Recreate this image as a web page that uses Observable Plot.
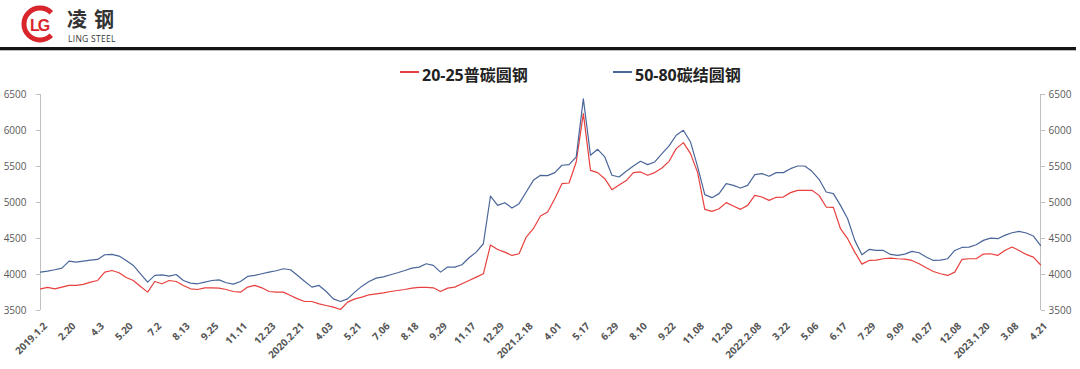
<!DOCTYPE html>
<html><head><meta charset="utf-8">
<script src="https://cdn.jsdelivr.net/npm/d3@7"></script>
<script src="https://cdn.jsdelivr.net/npm/@observablehq/plot@0.6"></script>
<style>
body{margin:0;background:#fff;font-family:"Open Sans","Noto Sans CJK SC",sans-serif;}
#wrap{position:relative;width:1080px;height:369px;overflow:hidden;background:#fff;}
#chart{position:absolute;left:0;top:0;}
#logo{position:absolute;left:0;top:0;}
.rule{position:absolute;left:0;top:47px;width:1076px;height:3px;background:#151515;}
.rule2{position:absolute;left:0;top:50px;width:1076px;height:1px;background:#bbb;}
.lg{position:absolute;top:62px;font-size:16px;font-weight:bold;color:#222;font-family:"Open Sans","Noto Sans CJK SC",sans-serif;white-space:nowrap;}
.sw{position:absolute;top:71px;width:19px;height:1.5px;}
</style></head><body>
<div id="wrap">
  <div id="chart"></div>
  <svg id="logo" width="140" height="46">
    <path d="M51.3,12.7 A16,16 0 1,0 51.3,35.3" fill="none" stroke="#d9262c" stroke-width="5"/>
    <rect x="30" y="15" width="20" height="18" fill="#fff"/>
    <text x="30" y="31" font-family="Liberation Sans, sans-serif" font-weight="bold" font-size="16" letter-spacing="-2" fill="#d9262c">LG</text>
    <text x="67" y="27" font-family="Noto Sans CJK SC, sans-serif" font-weight="bold" font-size="20" letter-spacing="7" fill="#333">凌钢</text>
    <text x="68" y="42" font-family="Open Sans, sans-serif" font-size="8.5" letter-spacing="0.3" fill="#333">LING STEEL</text>
  </svg>
  <div class="rule"></div><div class="rule2"></div>
  <div class="sw" style="left:400px;background:#e8403e"></div>
  <div class="lg" style="left:422px">20-25普碳圆钢</div>
  <div class="sw" style="left:613px;background:#4a6699"></div>
  <div class="lg" style="left:635px">50-80碳结圆钢</div>
</div>
<script>
// x tick labels (category axis, one label every 4 samples)
const tickLabels = ["2019.1.2","2.20","4.3","5.20","7.2","8.13","9.25","11.11","12.23","2020.2.21","4.03","5.21","7.06","8.18","9.29","11.17","12.29","2021.2.18","4.01","5.17","6.29","8.10","9.22","11.08","12.20","2022.2.08","3.22","5.06","6.17","7.29","9.09","10.27","12.08","2023.1.20","3.08","4.21"];
const seriesNames = ["20-25普碳圆钢","50-80碳结圆钢"];
const yTicks = [3500,4000,4500,5000,5500,6000,6500];

// 20-25普碳圆钢
const red = [3801,3820,3801,3825,3848,3848,3862,3894,3917,4033,4056,4024,3959,3917,3834,3755,3903,3871,3917,3903,
3848,3801,3792,3815,3815,3811,3792,3764,3755,3825,3848,3815,3764,3755,3755,3709,3662,3625,3625,3593,
3570,3546,3514,3616,3662,3685,3718,3732,3746,3764,3778,3792,3811,3820,3820,3815,3764,3811,3825,3871,
3917,3964,4010,4410,4348,4311,4265,4288,4520,4636,4812,4868,5053,5262,5271,5563,6235,5447,5415,5331,
5178,5243,5304,5415,5424,5378,5415,5480,5572,5748,5832,5679,5415,4905,4877,4914,4998,4951,4905,4960,
5099,5076,5030,5072,5076,5137,5169,5169,5169,5099,4937,4932,4636,4497,4311,4144,4195,4200,4219,4228,
4219,4214,4195,4149,4093,4042,4010,3987,4033,4209,4219,4219,4284,4288,4265,4334,4381,4334,4279,4242,4135];

// 50-80碳结圆钢
const blue = [4033,4047,4066,4089,4186,4172,4186,4200,4209,4274,4279,4256,4195,4126,4010,3894,3987,3996,3977,4000,
3917,3880,3871,3894,3917,3926,3885,3866,3903,3973,3987,4010,4033,4052,4080,4066,3987,3903,3825,3848,
3764,3662,3625,3662,3755,3838,3903,3950,3968,3996,4024,4056,4089,4103,4149,4126,4033,4103,4103,4135,
4232,4311,4427,5090,4960,4997,4923,4984,5146,5308,5378,5373,5415,5517,5526,5633,6440,5656,5739,5633,
5378,5354,5433,5508,5572,5526,5563,5679,5786,5934,6003,5841,5494,5109,5067,5123,5262,5238,5201,5238,
5387,5401,5364,5415,5415,5470,5507,5507,5433,5322,5146,5123,4960,4775,4474,4274,4348,4334,4334,4279,
4265,4283,4321,4302,4242,4195,4200,4219,4334,4376,4381,4413,4474,4506,4497,4543,4580,4599,4576,4534,4404];

const colors = ["#e8403e","#4a6699"];
const rows = [];
red.forEach((v,i)=>rows.push({i, v, s:seriesNames[0]}));
blue.forEach((v,i)=>rows.push({i, v, s:seriesNames[1]}));
const tickIdx = tickLabels.map((d,k)=>k*4);
const N = red.length - 1;

const chart = Plot.plot({
  width:1080, height:369,
  marginTop:94, marginBottom:59, marginLeft:40, marginRight:40,
  style:{fontFamily:"Open Sans, sans-serif", background:"transparent"},
  x:{domain:[0,N], axis:null},
  y:{domain:[3500,6500], axis:null},
  color:{domain:seriesNames, range:colors},
  marks:[
    Plot.ruleX([0,N],{stroke:"#c0c0c0", strokeWidth:1}),
    Plot.axisY({anchor:"left", ticks:yTicks, tickFormat:d=>String(d), tickSize:4, tickPadding:10, stroke:"#c0c0c0", fill:"#595959", fontSize:10, label:null}),
    Plot.axisY({anchor:"right", ticks:yTicks, tickFormat:d=>String(d), tickSize:4, tickPadding:4, stroke:"#c0c0c0", fill:"#595959", fontSize:10, label:null}),
    Plot.line(rows,{x:"i", y:"v", z:"s", stroke:"s", strokeWidth:1.2}),
    Plot.axisX({ticks:tickIdx, tickFormat:d=>tickLabels[d/4], tickRotate:-45, tickSize:0, tickPadding:14, dx:5, fill:"#555", fontSize:10, fontWeight:"bold", label:null})
  ]
});
document.getElementById("chart").appendChild(chart);
</script>
</body></html>
